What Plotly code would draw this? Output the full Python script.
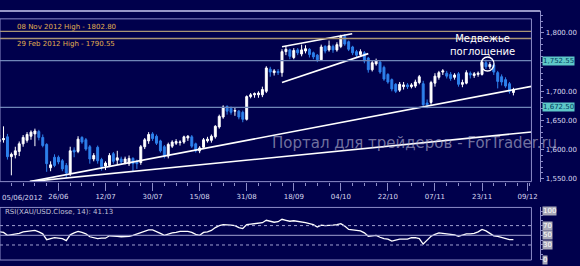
import pandas as pd
import plotly.graph_objects as go

# ---------------- data ----------------
dates = [d.strftime("%d/%m") for d in pd.bdate_range("2012-06-05", periods=132)]

opens = [1614,1617,1622,1588,1591,1597,1610,1616,1623,1627,1631,1621,1609,1569,1587,1587,1581,1573,1559,1599,
         1597,1621,1617,1605,1584,1604,1583,1572,1573,1593,1582,1584,1578,1576,1585,1580,1578,1605,1615,1627,
         1623,1615,1605,1589,1606,1611,1612,1613,1620,1622,1610,1598,1604,1615,1616,1622,1639,1656,1674,1671,
         1666,1666,1664,1652,1691,1694,1694,1694,1700,1738,1732,1734,1732,1768,1771,1758,1771,1764,1769,1772,
         1766,1762,1754,1777,1771,1777,1771,1777,1794,1785,1776,1768,1763,1766,1757,1737,1747,1750,1741,1729,
         1720,1712,1702,1708,1711,1708,1709,1715,1713,1680,1681,1714,1724,1733,1731,1729,1724,1730,1712,1714,
         1731,1727,1729,1729,1749,1742,1745,1732,1725,1720,1713,1698]
highs = [1625,1640,1627,1595,1605,1614,1625,1630,1633,1636,1634,1626,1611,1580,1592,1590,1584,1577,1605,1604,
         1623,1623,1620,1608,1594,1607,1586,1580,1594,1596,1598,1588,1588,1590,1587,1583,1608,1620,1630,1630,
         1626,1617,1608,1612,1616,1618,1616,1624,1625,1625,1612,1606,1620,1622,1626,1642,1660,1676,1676,1674,
         1672,1668,1667,1693,1697,1698,1700,1708,1743,1742,1738,1738,1772,1778,1773,1774,1774,1780,1779,1774,
         1768,1764,1780,1779,1787,1780,1784,1797,1798,1787,1778,1771,1772,1769,1759,1752,1756,1752,1744,1731,
         1722,1714,1716,1716,1714,1714,1720,1728,1718,1686,1718,1731,1735,1738,1735,1733,1731,1733,1720,1736,
         1734,1733,1734,1753,1754,1750,1748,1735,1729,1724,1716,1706]
lows = [1610,1612,1583,1556,1585,1589,1605,1612,1617,1606,1616,1604,1562,1563,1570,1575,1563,1551,1555,1587,
        1594,1610,1598,1576,1580,1576,1564,1565,1570,1576,1574,1574,1575,1572,1563,1567,1574,1601,1610,1615,
        1608,1595,1585,1585,1603,1608,1607,1610,1615,1603,1595,1594,1601,1612,1612,1619,1636,1653,1660,1660,
        1658,1652,1647,1650,1688,1689,1689,1690,1697,1725,1727,1728,1725,1762,1755,1755,1762,1760,1765,1758,
        1755,1750,1752,1765,1768,1766,1768,1774,1778,1769,1762,1758,1760,1748,1732,1734,1744,1730,1718,1713,
        1700,1697,1699,1703,1704,1705,1706,1712,1673,1671,1677,1708,1720,1728,1722,1718,1720,1708,1707,1712,
        1722,1723,1725,1727,1738,1738,1728,1705,1710,1706,1696,1693]
closes = [1617,1619,1588,1592,1598,1610,1621,1626,1630,1632,1621,1607,1576,1574,1573,1579,1567,1560,1598,1596,
          1618,1613,1601,1584,1590,1581,1571,1577,1590,1580,1586,1579,1584,1585,1576,1576,1605,1617,1626,1619,
          1611,1598,1589,1609,1613,1614,1613,1622,1623,1606,1598,1603,1617,1618,1623,1640,1657,1673,1666,1664,
          1667,1656,1652,1691,1694,1696,1697,1703,1740,1733,1735,1732,1768,1772,1760,1770,1766,1771,1773,1763,
          1759,1754,1776,1769,1778,1771,1780,1794,1781,1772,1766,1762,1768,1752,1737,1749,1752,1733,1721,1716,
          1704,1700,1712,1711,1708,1711,1716,1725,1677,1677,1715,1726,1732,1735,1726,1722,1728,1712,1715,1732,
          1728,1730,1731,1750,1742,1746,1733,1717,1716,1709,1700,1703]
rsi = [57,56,50,51,52,54,57,58,59,60,57,53,41,43,45,44,43,39,51,55,
       58,56,53,47,45,43,44,44,49,49,48,47,47,48,50,53,56,59,61,61,
       58,54,50,53,55,56,58,58,58,56,52,50,56,57,60,66,70,72,72,71,
       70,66,64,72,73,74,75,76,81,79,77,78,83,81,79,80,79,78,76,74,
       72,67,71,70,70,71,72,74,69,62,61,60,59,55,48,49,50,46,43,42,
       38,40,42,42,42,45,45,43,32,40,48,52,55,54,53,52,51,48,50,53,
       53,54,57,62,59,54,49,48,46,43,41,41.13]

tick_pos = [15, 27, 39, 51, 63, 75, 87, 99, 111, 123, 134.6]
tick_text = ["26/06", "12/07", "30/07", "15/08", "31/08", "18/09", "04/10", "22/10", "07/11", "23/11", "09/12"]
first_label = "05/06/2012"

price_ticks = [1550, 1600, 1650, 1700, 1800]
levels = [1802.80, 1790.55, 1752.55, 1672.50]
level_colors = ["#a89474", "#a89474", "#6f86b8", "#6f86b8"]
level_notes = ["08 Nov 2012 High - 1802.80", "29 Feb 2012 High - 1790.55"]
boxed_levels = [1752.55, 1672.50]

# trend lines: (index, price) endpoints
trend_x = [[7.7, 135.6], [7.7, 135.6], [72.0, 89.9], [72.0, 94.0]]
trend_y = [[1545.2, 1708.5], [1545.2, 1630.3], [1776.5, 1798.6], [1715.3, 1764.6]]

circle_x, circle_y = 124.4, 1746.8
note_text = "Медвежье<br>поглощение"
watermark = "Портал для трейдеров - ForTrader.ru"
rsi_label = "RSI(XAU/USD.Close, 14): 41.13"
rsi_levels = [100, 70, 50, 30, 0]

# ---------------- figure ----------------
BG = "#00004c"
FRAME = "#8c8cc8"
TXT = "#d8d8f0"
FONT = "DejaVu Sans"
W, H = 580, 266
xi = list(range(len(closes)))

def py(px):  # pixel-from-top to paper fraction
    return 1 - px / H

fig = go.Figure()
fig.add_trace(go.Candlestick(
    x=xi, open=opens, high=highs, low=lows, close=closes,
    increasing=dict(line=dict(color="#ffffff", width=1), fillcolor="#ffffff"),
    decreasing=dict(line=dict(color="#2e80ec", width=1), fillcolor="#2e80ec"),
    whiskerwidth=0, xaxis="x", yaxis="y", hoverinfo="skip"))

for tx, ty in zip(trend_x, trend_y):
    fig.add_trace(go.Scatter(x=tx, y=ty, mode="lines", line=dict(color="#ffffff", width=1.6),
                             xaxis="x", yaxis="y", hoverinfo="skip"))

fig.add_trace(go.Scatter(x=xi, y=rsi, mode="lines", line=dict(color="#ffffff", width=1.3),
                         xaxis="x2", yaxis="y2", hoverinfo="skip"))

shapes = []
for lv, c in zip(levels, level_colors):
    shapes.append(dict(type="line", xref="x domain", yref="y", x0=0, x1=1, y0=lv, y1=lv,
                       line=dict(color=c, width=1.3)))
# RSI guide lines
for lv, dash in [(70, "dot"), (50, "solid"), (30, "dot")]:
    shapes.append(dict(type="line", xref="x2 domain", yref="y2", x0=0, x1=1, y0=lv, y1=lv,
                       line=dict(color="#a0a0d0", width=1, dash=dash)))
# panel frames
shapes.append(dict(type="rect", xref="paper", yref="paper", x0=0, x1=537 / W, y0=py(183), y1=py(19),
                   line=dict(color=FRAME, width=1)))
shapes.append(dict(type="line", xref="paper", yref="paper", x0=0, x1=546 / W, y0=py(11), y1=py(11),
                   line=dict(color="#c8c8f0", width=1.5)))
shapes.append(dict(type="rect", xref="paper", yref="paper", x0=0, x1=537 / W, y0=py(262), y1=py(209),
                   line=dict(color=FRAME, width=1)))
# circle
shapes.append(dict(type="circle", xref="x", yref="y", x0=circle_x - 1.65, x1=circle_x + 1.65,
                   y0=circle_y - 12, y1=circle_y + 12, line=dict(color="#ffffff", width=1.3)))
fig.update_layout(shapes=shapes)

ann = []
ann.append(dict(xref="paper", yref="paper", x=0, y=py(199), text=first_label, showarrow=False,
                xanchor="left", yanchor="middle", font=dict(family=FONT, size=7, color=TXT)))
for lv, t, off in zip(levels[:2], level_notes, [-4.5, 5.5]):
    ann.append(dict(xref="paper", yref="y", x=15 / W, y=lv, text=t, showarrow=False, xanchor="left",
                    yanchor="middle", yshift=-off, font=dict(family=FONT, size=7, color="#e0b050")))
for lv in boxed_levels:
    ann.append(dict(xref="paper", yref="y", x=548 / W, y=lv, text=f"{lv:,.2f}", showarrow=False,
                    xanchor="left", yanchor="middle", bgcolor="#5ec8c8", borderpad=0,
                    font=dict(family=FONT, size=7, color="#004060")))
ann.append(dict(xref="paper", yref="paper", x=488 / W, y=py(45), text=note_text, showarrow=False,
                xanchor="center", yanchor="middle", font=dict(family=FONT, size=10, color="#ffffff")))
ann.append(dict(xref="paper", yref="paper", x=419 / W, y=py(144), text=watermark, showarrow=False,
                xanchor="center", yanchor="middle", font=dict(family=FONT, size=15, color="rgba(190,190,215,0.6)")))
ann.append(dict(xref="paper", yref="paper", x=3 / W, y=py(214), text=rsi_label, showarrow=False,
                xanchor="left", yanchor="middle", font=dict(family=FONT, size=7, color="#c0c0d8")))
for lv in rsi_levels:
    ann.append(dict(xref="paper", yref="y2", x=548 / W, y=lv, text=str(lv), showarrow=False,
                    xanchor="left", yanchor="middle", bgcolor="#a8a8b8", borderpad=0,
                    font=dict(family=FONT, size=7, color="#ffffff")))
fig.update_layout(annotations=ann)

fig.update_layout(
    width=W, height=H, margin=dict(l=0, r=0, t=0, b=0),
    paper_bgcolor=BG, plot_bgcolor=BG, showlegend=False,
    xaxis=dict(domain=[0, 537 / W], range=[0.1, 135.6], anchor="y", rangeslider=dict(visible=False),
               showgrid=False, zeroline=False, tickmode="array", tickvals=tick_pos, ticktext=tick_text,
               ticks="outside", ticklen=8, tickcolor=FRAME, tickwidth=1,
               minor=dict(ticks="outside", ticklen=3, tickcolor=FRAME, dtick=3, tick0=0, showgrid=False),
               tickfont=dict(family=FONT, size=7, color=TXT), showline=False),
    yaxis=dict(domain=[py(183), py(11)], range=[1545.2, 1837.8], side="right", anchor="free",
               position=546 / W, showgrid=False, zeroline=False, tickvals=price_ticks,
               tickformat=",.2f", ticks="outside", ticklen=3, tickcolor=FRAME, showline=True,
               linecolor=FRAME, linewidth=1, minor=dict(ticks="outside", ticklen=2, dtick=10, tickcolor=FRAME),
               tickfont=dict(family=FONT, size=7, color=TXT)),
    xaxis2=dict(domain=[0, 537 / W], range=[0.1, 135.6], anchor="y2", showgrid=False, zeroline=False,
                showticklabels=False),
    yaxis2=dict(domain=[py(262), py(209)], range=[-1, 107.5], side="right", anchor="free",
                position=546 / W, showgrid=False, zeroline=False, showticklabels=False,
                showline=True, linecolor=FRAME, linewidth=1, ticks="outside", ticklen=2,
                tickvals=[0, 10, 20, 30, 40, 50, 60, 70, 80, 90, 100], tickcolor=FRAME),
)

fig.write_html("out.html")
